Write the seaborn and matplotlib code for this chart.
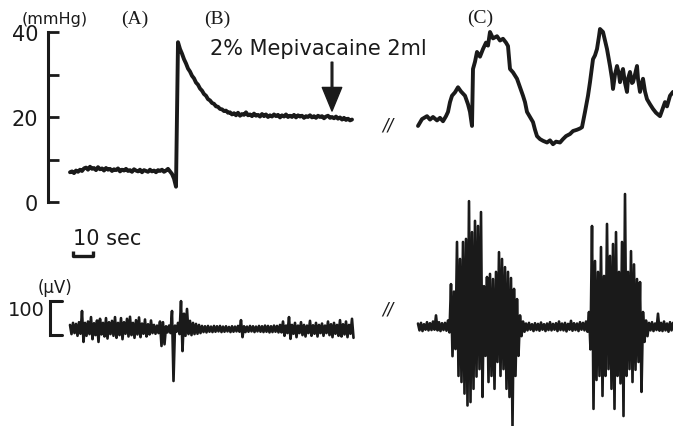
import numpy as np
import pandas as pd
import matplotlib
matplotlib.use("Agg")
import matplotlib.pyplot as plt
import seaborn as sns

# ---- data (time in sec, pressure in mmHg, EMG in uV) ----
# pressure trace (A)->(B), sampled every 1 s
press_ab = [7.0, 7.2, 6.8, 7.4, 7.1, 7.6, 7.3, 7.9, 8.1, 7.6,
            8.3, 7.8, 8.0, 7.5, 8.2, 7.7, 7.9, 7.4, 8.0, 7.6,
            7.8, 7.3, 7.7, 7.5, 7.9, 7.2, 7.6, 7.4, 7.8, 7.3,
            7.5, 7.1, 7.7, 7.4, 7.2, 7.6, 7.0, 7.5, 7.3, 7.1,
            7.6, 7.2, 7.4, 7.0, 7.5, 7.3, 7.6, 7.1, 7.4, 7.8,
            7.2, 6.6, 5.5, 3.6, 37.6, 36.0, 34.9, 33.6, 32.6, 31.4,
            30.7, 29.7, 29.1, 28.1, 27.6, 26.7, 26.2, 25.4, 25.0, 24.2,
            23.9, 23.3, 23.1, 22.5, 22.4, 21.9, 21.8, 21.4, 21.5, 21.0,
            21.1, 20.6, 20.9, 20.4, 21.0, 20.3, 20.7, 20.5, 21.1, 20.4,
            20.6, 20.2, 20.8, 20.3, 20.5, 20.1, 20.7, 20.2, 20.6, 20.0,
            20.4, 20.1, 20.6, 20.2, 20.5, 19.9, 20.4, 20.1, 20.6, 20.0,
            20.3, 20.0, 20.5, 19.9, 20.4, 20.1, 20.3, 19.8, 20.2, 20.0,
            20.4, 19.9, 20.2, 19.8, 20.3, 20.0, 20.2, 19.7, 20.1, 20.3,
            19.8, 20.0, 19.7, 20.1, 19.6, 19.9, 19.4, 19.8, 19.3, 19.6,
            19.2, 19.4]

# pressure trace (C)
press_c_t = [174, 176, 178.5, 180, 181.5, 183.5, 185, 186.5, 188, 189,
             190, 191, 192.5, 194, 195.5, 197.5, 199, 200, 201, 201.5,
             202.5, 203.5, 205, 206.5, 208, 209, 210, 211.5, 213.5, 215,
             216.5, 218, 219, 220, 221.5, 223.5, 225, 226.5, 227.5, 228.5,
             230, 231.5, 232.5, 233.5, 235, 236.5, 238.5, 240, 241.5, 243,
             245, 246.5, 248, 250, 251.5, 253.5, 255, 256, 257.5, 259,
             260, 261.5, 262.5, 263.5, 264.5, 265, 266.5, 267.5, 268.5, 270,
             271, 271.5, 272.5, 273.5, 274.5, 275, 276, 276.5, 277.5, 278.5,
             279, 280, 281, 281.5, 282.5, 283.5, 284, 285, 286, 286.5,
             287.5, 288.5, 290, 291.5, 293, 295, 296, 297.5, 298.5, 300,
             301.5]
press_c = [17.9, 19.5, 20.2, 19.4, 20.0, 19.2, 19.8, 19.0, 20.2, 21.2,
           23.5, 25.0, 25.8, 27.0, 26.0, 25.0, 23.0, 21.2, 17.9, 31.3,
           33.0, 35.3, 34.2, 36.0, 37.5, 36.8, 40.0, 38.5, 39.0, 38.0,
           38.4, 37.5, 36.7, 31.3, 30.5, 29.0, 27.0, 25.0, 23.5, 21.2,
           20.0, 18.8, 17.0, 15.5, 14.8, 14.4, 14.0, 14.5, 13.6, 14.2,
           14.0, 14.8, 15.5, 16.0, 16.7, 17.0, 17.3, 17.6, 21.2, 25.0,
           28.2, 33.6, 34.5, 36.0, 39.0, 40.7, 40.0, 38.0, 36.0, 32.0,
           29.0, 26.6, 30.0, 32.0, 30.0, 28.2, 30.5, 31.3, 28.0, 25.9,
           29.0, 30.6, 28.0, 28.2, 30.0, 32.0, 29.0, 25.9, 28.0, 29.0,
           26.0, 24.2, 23.0, 21.9, 21.0, 20.2, 21.5, 23.5, 22.5, 25.0,
           25.9]

# EMG (A)->(B): high / low excursion every 1.5 s
emg_ab_hi = [12, 18, 15, 20, 53, 18, 22, 35, 17, 25,
             30, 18, 32, 20, 24, 35, 18, 32, 20, 30,
             36, 18, 26, 34, 16, 28, 14, 25, 12, 10,
             22, 20, 8, 10, 53, 10, 18, 82, 45, 59,
             24, 18, 15, 12, 9, 8, 9, 7, 9, 8,
             9, 7, 8, 6, 8, 7, 9, 26, 8, 7,
             9, 8, 7, 9, 8, 10, 9, 8, 10, 9,
             12, 22, 10, 35, 12, 18, 10, 20, 12, 10,
             24, 11, 18, 12, 16, 10, 22, 14, 18, 12,
             26, 14, 22, 12, 30]
emg_ab_lo = [-15, -12, -20, -14, -38, -20, -15, -30, -18, -38,
             -16, -22, -28, -15, -20, -26, -18, -30, -14, -22,
             -18, -26, -16, -24, -14, -22, -16, -12, -14, -12,
             -50, -45, -10, -12, -153, -8, -15, -65, -20, -15,
             -18, -15, -14, -12, -9, -10, -8, -9, -8, -7,
             -9, -8, -7, -9, -8, -7, -8, -24, -9, -8,
             -7, -9, -7, -8, -9, -8, -10, -9, -8, -10,
             -10, -20, -12, -29, -14, -24, -12, -18, -22, -12,
             -20, -14, -22, -12, -20, -12, -18, -24, -14, -20,
             -22, -16, -24, -14, -26]

# EMG (C): high / low excursion every 1.5 s, starting at 174 s
emg_c_hi = [16, 18, 14, 20, 17, 22, 40, 20, 17, 18,
            25, 132, 110, 256, 206, 256, 265, 376, 285, 318,
            303, 344, 126, 153, 162, 147, 168, 226, 206, 182,
            168, 150, 118, 88, 40, 22, 16, 18, 14, 17,
            15, 19, 14, 16, 20, 15, 17, 22, 16, 18,
            15, 24, 17, 16, 20, 18, 22, 50, 303, 200,
            168, 241, 156, 309, 215, 250, 285, 168, 256, 397,
            168, 229, 190, 147, 138, 50, 25, 18, 20, 16,
            45, 18, 22, 16, 20, 18]
emg_c_lo = [-4, -6, -2, -4, -3, -2, -4, -6, -3, -5,
            -10, -80, -59, -138, -156, -190, -225, -215, -176, -140,
            -118, -200, -79, -156, -138, -176, -97, -138, -118, -176,
            -200, -285, -138, -79, -21, -8, -4, -2, -6, -3,
            -5, -2, -6, -3, -4, -2, -6, -3, -4, -7,
            -2, -5, -3, -6, -2, -4, -8, -60, -235, -150,
            -138, -197, -138, -118, -176, -235, -138, -160, -256, -138,
            -118, -156, -120, -97, -185, -38, -21, -4, -6, -3,
            -5, -6, -4, -8, -4, -5]

EMG_STEP = 1.5
EMG_C_START = 174


def zigzag(t0, hi, lo):
    t = []
    v = []
    for i, (h, l) in enumerate(zip(hi, lo)):
        t += [t0 + i * EMG_STEP, t0 + i * EMG_STEP + EMG_STEP / 2]
        v += [h, l]
    return pd.DataFrame({"t": t, "v": v})


df_ab = pd.DataFrame({"t": np.arange(len(press_ab)), "v": press_ab})
df_c = pd.DataFrame({"t": press_c_t, "v": press_c})
emg_ab = zigzag(0, emg_ab_hi, emg_ab_lo)
emg_c = zigzag(EMG_C_START, emg_c_hi, emg_c_lo)

# ---- figure ----
W, H = 673, 427
sns.set_theme(style="white")
plt.rcParams['font.family'] = ['DejaVu Sans']

fig = plt.figure(figsize=(W / 100, H / 100), dpi=100)
fig.patch.set_facecolor("white")


def fx(px):
    return px / W


def fy(py):
    return 1 - py / H


# pressure panel
ax = fig.add_axes([fx(48), fy(203), 1 - fx(48), (203 - 33) / H])
ax.set_facecolor("none")
sns.lineplot(data=df_ab, x="t", y="v", ax=ax, color="k", lw=2.8, estimator=None, sort=False)
sns.lineplot(data=df_c, x="t", y="v", ax=ax, color="k", lw=2.8, estimator=None, sort=False)
ax.set_xlim(-11, 301.5)
ax.set_ylim(0, 40)
for s in ["top", "right", "bottom"]:
    ax.spines[s].set_visible(False)
ax.spines["left"].set_color("k")
ax.spines["left"].set_linewidth(2.2)
ax.set_yticks([0, 10, 20, 30, 40])
ax.set_yticklabels(["0", "", "20", "", "40"])
ax.tick_params(axis="y", direction="in", length=8, width=2, pad=7, labelsize=15,
               colors="k", left=True)
ax.set_xticks([])
ax.set_xlabel("")
ax.set_ylabel("")

# arrow for the injection
ax.annotate("", xy=(131, 21.4), xytext=(131, 32.9),
            arrowprops=dict(facecolor="k", edgecolor="k", width=1.2,
                            headwidth=14, headlength=17, shrink=0))

# 10 sec scale bar
SCALE_SEC = 10
ax.plot([1.5, 1.5, 1.5 + SCALE_SEC, 1.5 + SCALE_SEC], [-11.5, -12.6, -12.6, -11.5],
        color="k", lw=2.4, clip_on=False, solid_capstyle="butt")

# EMG panel, same time scale
ax2 = fig.add_axes([fx(48), 0, 1 - fx(48), 1])
ax2.axis("off")
sns.lineplot(data=emg_ab, x="t", y="v", ax=ax2, color="k", lw=1.9, estimator=None, sort=False)
sns.lineplot(data=emg_c, x="t", y="v", ax=ax2, color="k", lw=1.9, estimator=None, sort=False)
ax2.set_xlim(-11, 301.5)
ax2.set_ylim(-285.3, 970.6)

# 100 uV scale bracket
SCALE_UV = 100
b0 = -17.6
ax2.plot([-4, -10, -10, -4], [b0 + SCALE_UV, b0 + SCALE_UV, b0, b0],
         color="k", lw=2.2, clip_on=False, solid_joinstyle="miter")

for line in ax.lines + ax2.lines:
    line.set_clip_on(False)

# ---- labels ----
fig.text(fx(22), fy(24), "(mmHg)", fontsize=11.5, color="k")
serif = ["Liberation Serif", "DejaVu Serif"]
fig.text(fx(135), fy(19), "(A)", fontsize=14, family=serif, ha="center", va="center", color="k")
fig.text(fx(217), fy(19), "(B)", fontsize=14, family=serif, ha="center", va="center", color="k")
fig.text(fx(480), fy(18), "(C)", fontsize=14, family=serif, ha="center", va="center", color="k")
fig.text(fx(210), fy(55), "2% Mepivacaine 2ml", fontsize=15, color="k", va="baseline")
fig.text(fx(73), fy(245), "10 sec", fontsize=15, color="k", va="baseline")
fig.text(fx(38), fy(288), "(\u00b5V)", fontsize=12, color="k", va="center")
fig.text(fx(45), fy(310), "100", fontsize=14, color="k", ha="right", va="center")
fig.text(fx(388), fy(125), "//", fontsize=12, style="italic", color="k", ha="center", va="center")
fig.text(fx(388), fy(310), "//", fontsize=12, style="italic", color="k", ha="center", va="center")

fig.savefig("out.png", dpi=100, facecolor="white")
